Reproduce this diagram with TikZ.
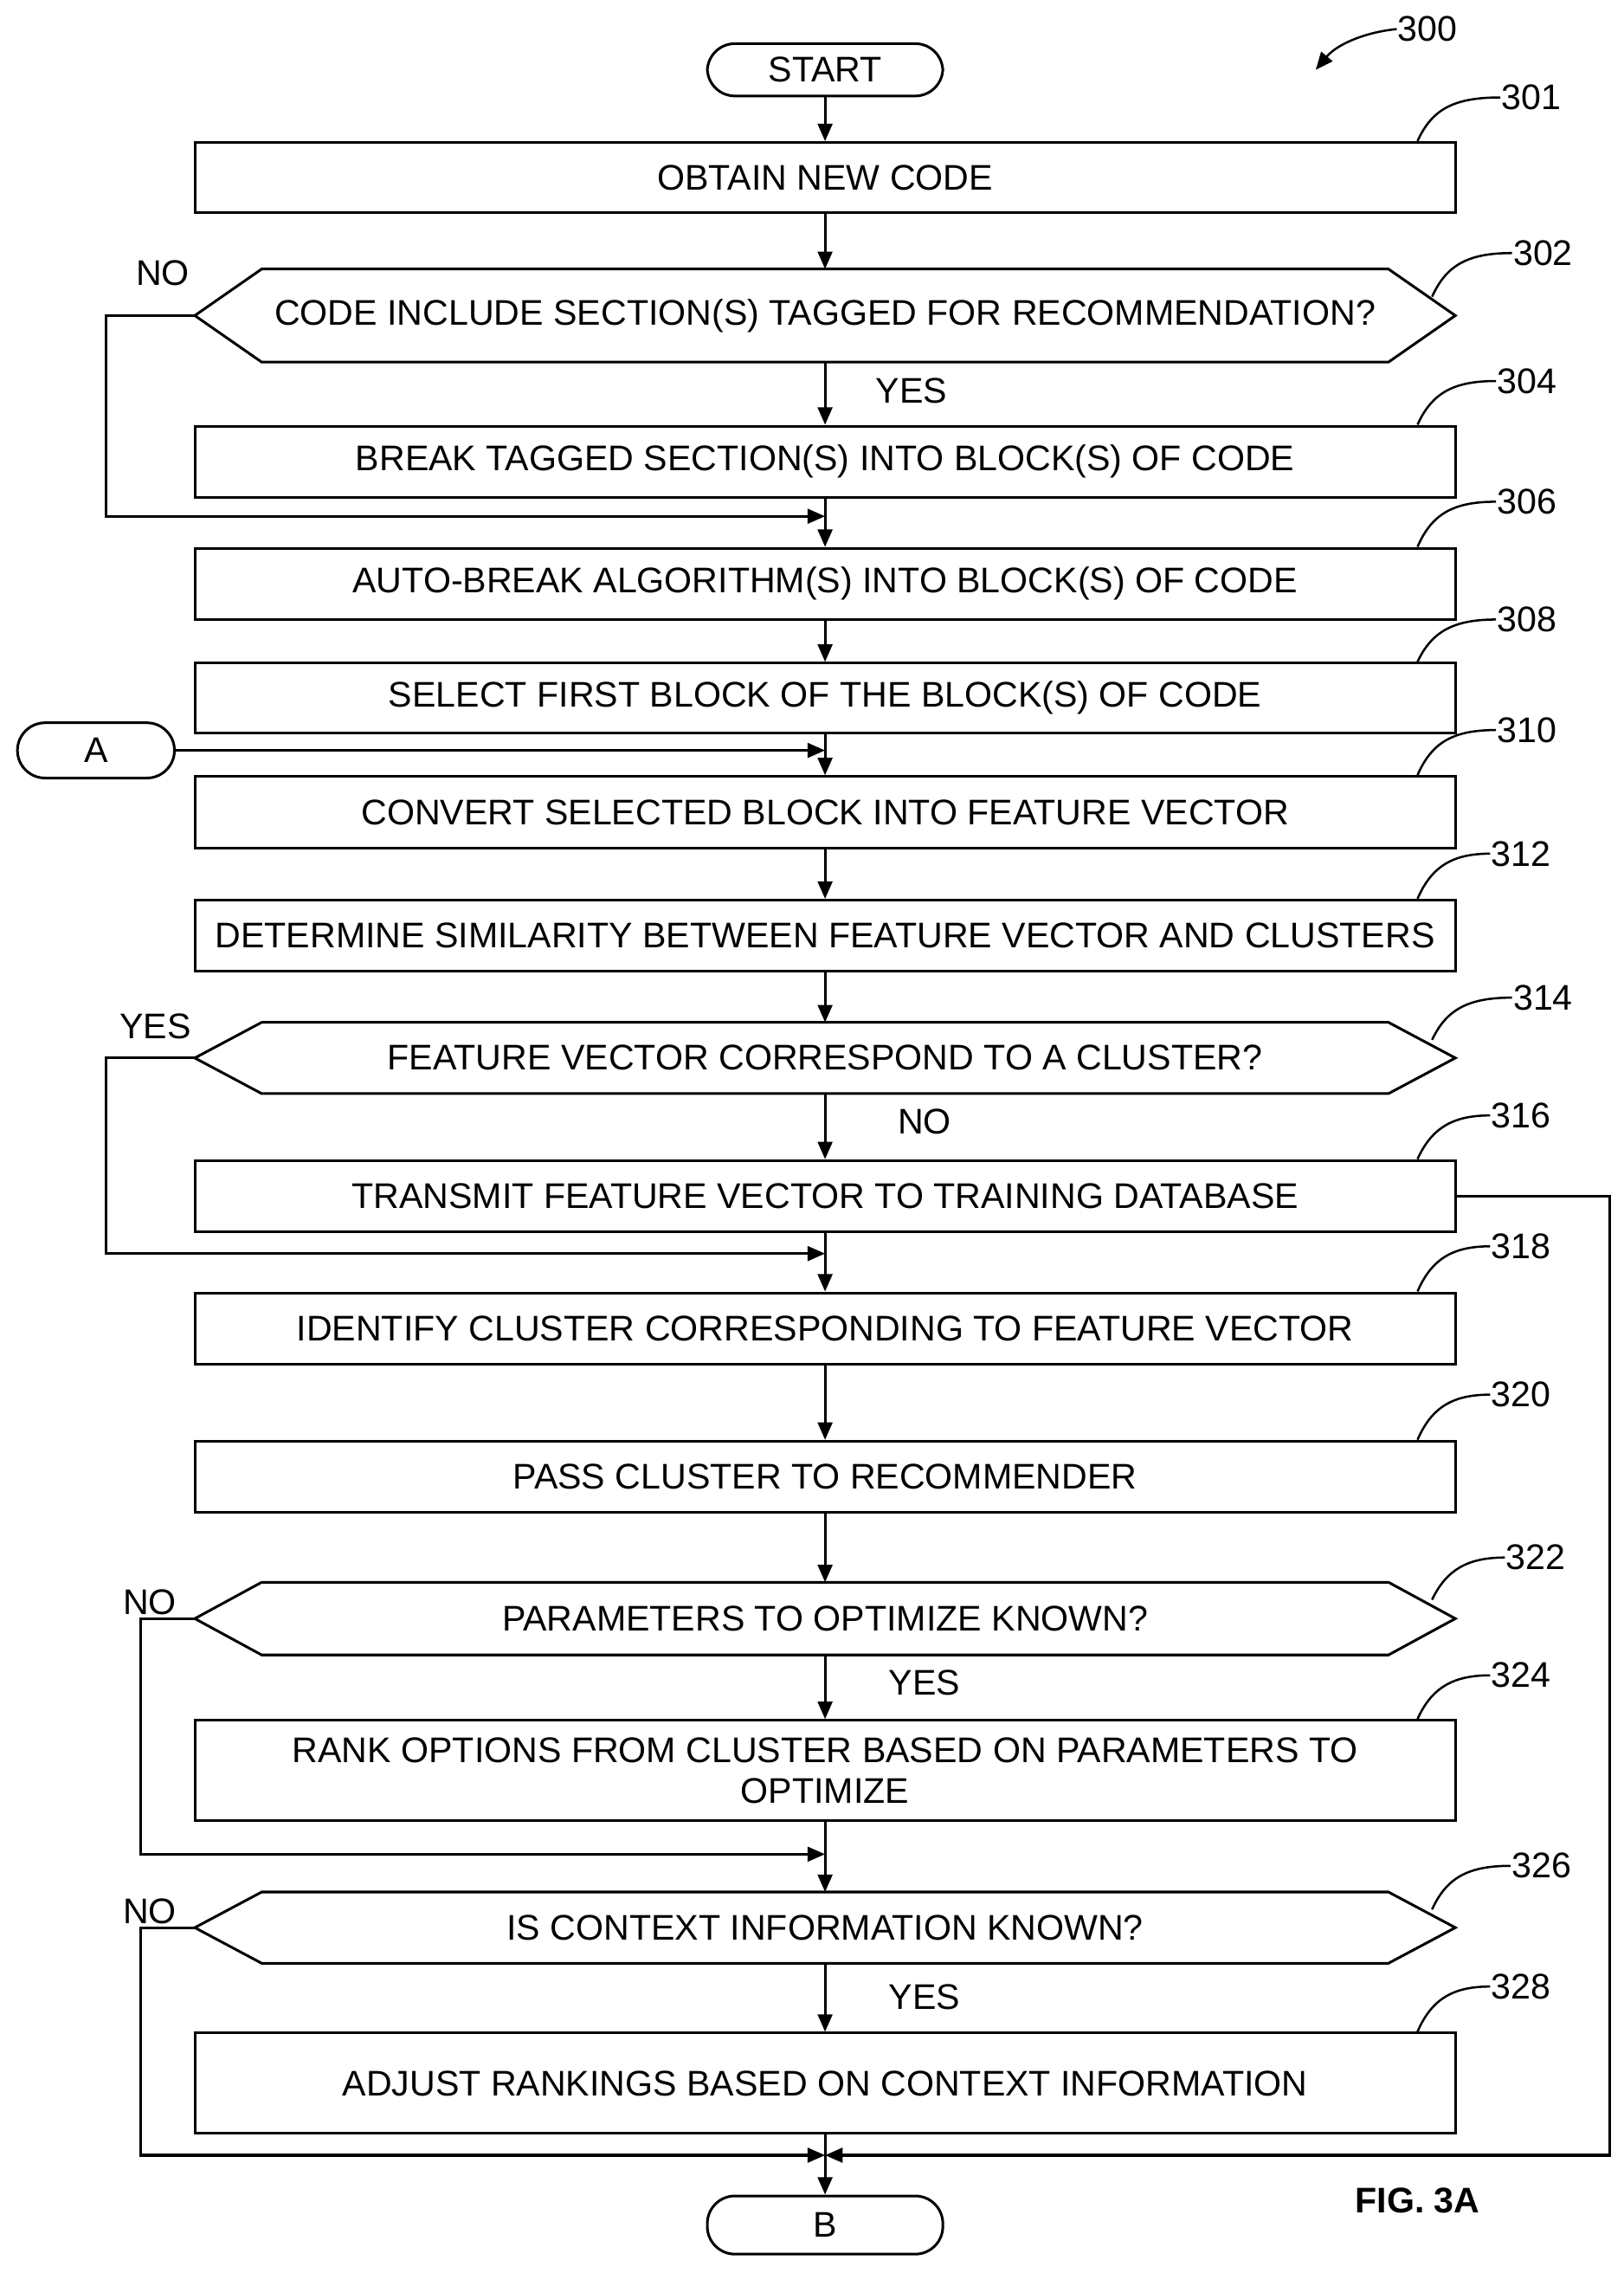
\documentclass[tikz,border=0pt]{standalone}
\usepackage{fontspec}
\setmainfont{Liberation Sans}
\usetikzlibrary{arrows.meta}
\begin{document}
\begin{tikzpicture}[x=1pt,y=-1pt,line width=1.8pt,
  every node/.style={font=\fontsize{24.5}{28}\selectfont},
  box/.style={draw,minimum width=867pt,inner sep=0pt,align=center},
  term/.style={draw,rounded corners=19pt,inner sep=0pt},
  lab/.style={inner sep=0pt},
  ld/.style={line width=1.5pt},
  arr/.style={-{Triangle[length=12pt,width=10pt]}}]
\useasboundingbox (0,0) rectangle (1117,1563);
\newcommand{\hexa}[4]{% name, ytop, ybot, text
  \node[inner sep=0pt] (#1) at (567.5,{(#2+#3)/2}) {#4};
  \coordinate (#1L) at (134,{(#2+#3)/2});
  \coordinate (#1T) at (567.5,#2);
  \coordinate (#1B) at (567.5,#3);
  \draw (134,{(#2+#3)/2}) -- (180,#2) -- (955,#2) -- (1001,{(#2+#3)/2}) -- (955,#3) -- (180,#3) -- cycle;}
\newcommand{\bx}[4]{\node[box,minimum height={#3-#2}] (#1) at (567.5,{(#2+#3)/2}) {#4};}
% nodes
\node[term,minimum width=162pt,minimum height=36pt] (start) at (567.5,48) {START};
\bx{b301}{98}{146}{OBTAIN NEW CODE}
\hexa{h302}{185}{249}{CODE INCLUDE SECTION(S) TAGGED FOR RECOMMENDATION?}
\bx{b304}{293}{342}{BREAK TAGGED SECTION(S) INTO BLOCK(S) OF CODE}
\bx{b306}{377}{426}{AUTO-BREAK ALGORITHM(S) INTO BLOCK(S) OF CODE}
\bx{b308}{456}{504}{SELECT FIRST BLOCK OF THE BLOCK(S) OF CODE}
\bx{b310}{534}{583}{CONVERT SELECTED BLOCK INTO FEATURE VECTOR}
\bx{b312}{619}{668}{DETERMINE SIMILARITY BETWEEN FEATURE VECTOR AND CLUSTERS}
\hexa{h314}{703}{752}{FEATURE VECTOR CORRESPOND TO A CLUSTER?}
\bx{b316}{798}{847}{TRANSMIT FEATURE VECTOR TO TRAINING DATABASE}
\bx{b318}{889}{938}{IDENTIFY CLUSTER CORRESPONDING TO FEATURE VECTOR}
\bx{b320}{991}{1040}{PASS CLUSTER TO RECOMMENDER}
\hexa{h322}{1088}{1138}{PARAMETERS TO OPTIMIZE KNOWN?}
\bx{b324}{1183}{1252}{RANK OPTIONS FROM CLUSTER BASED ON PARAMETERS TO\\[0pt] OPTIMIZE}
\hexa{h326}{1301}{1350}{IS CONTEXT INFORMATION KNOWN?}
\bx{b328}{1398}{1467}{ADJUST RANKINGS BASED ON CONTEXT INFORMATION}
\node[term,minimum width=162pt,minimum height=40pt] (endB) at (567.5,1530) {B};
\node[term,minimum width=108pt,minimum height=38pt] (A) at (66,516) {A};
% coordinates
\coordinate (m302) at (567.5,355);
\coordinate (mA) at (567.5,516);
\coordinate (m314) at (567.5,862);
\coordinate (m322) at (567.5,1275);
\coordinate (mEnd) at (567.5,1482);
% connectors
\draw[arr] (start) -- (b301);
\draw[arr] (b301) -- (h302T);
\draw[arr] (h302B) -- (b304);
\draw[arr] (b304) -- (b306);
\draw[arr] (h302L) -- (73,217) |- (m302);
\draw[arr] (b306) -- (b308);
\draw[arr] (b308) -- (b310);
\draw[arr] (A) -- (mA);
\draw[arr] (b310) -- (b312);
\draw[arr] (b312) -- (h314T);
\draw[arr] (h314B) -- (b316);
\draw[arr] (h314L) -- (73,727.5) |- (m314);
\draw[arr] (b316) -- (b318);
\draw[arr] (b318) -- (b320);
\draw[arr] (b320) -- (h322T);
\draw[arr] (h322B) -- (b324);
\draw[arr] (h322L) -- (97,1113) |- (m322);
\draw[arr] (b324) -- (h326T);
\draw[arr] (h326B) -- (b328);
\draw[arr] (h326L) -- (97,1325.5) |- (mEnd);
\draw[arr] (b316.east) -- (1107,822.5) |- (mEnd);
\draw[arr] (b328) -- (endB);
% labels
\node[lab] at (112,188) {NO};
\node[lab] at (627,269) {YES};
\node[lab] at (107,706) {YES};
\node[lab] at (636,771) {NO};
\node[lab] at (103,1102) {NO};
\node[lab] at (636,1157) {YES};
\node[lab] at (103,1314) {NO};
\node[lab] at (636,1373) {YES};
\node[lab] (n300) at (982,20) {300};
\draw[arr,ld] (n300.west) .. controls (940,22) and (920,30) .. (905,48);
\node[lab,anchor=west] (n301) at (1032,67) {301};
\node[lab,anchor=west] (n302) at (1040,174) {302};
\node[lab,anchor=west] (n304) at (1029,262) {304};
\node[lab,anchor=west] (n306) at (1029,345) {306};
\node[lab,anchor=west] (n308) at (1029,426) {308};
\node[lab,anchor=west] (n310) at (1029,502) {310};
\node[lab,anchor=west] (n312) at (1025,587) {312};
\node[lab,anchor=west] (n314) at (1040,686) {314};
\node[lab,anchor=west] (n316) at (1025,767) {316};
\node[lab,anchor=west] (n318) at (1025,857) {318};
\node[lab,anchor=west] (n320) at (1025,959) {320};
\node[lab,anchor=west] (n322) at (1035,1071) {322};
\node[lab,anchor=west] (n324) at (1025,1152) {324};
\node[lab,anchor=west] (n326) at (1039,1283) {326};
\node[lab,anchor=west] (n328) at (1025,1366) {328};
\draw[ld] (975,97) .. controls (985,75) and (1000,67) .. (n301.west);
\draw[ld] (985,204) .. controls (995,182) and (1010,174) .. (n302.west);
\draw[ld] (975,292) .. controls (985,270) and (1000,262) .. (n304.west);
\draw[ld] (975,376) .. controls (985,353) and (1000,345) .. (n306.west);
\draw[ld] (975,455) .. controls (985,434) and (1000,426) .. (n308.west);
\draw[ld] (975,533) .. controls (985,510) and (1000,502) .. (n310.west);
\draw[ld] (975,618) .. controls (985,595) and (1000,587) .. (n312.west);
\draw[ld] (985,715) .. controls (995,694) and (1010,686) .. (n314.west);
\draw[ld] (975,797) .. controls (985,775) and (1000,767) .. (n316.west);
\draw[ld] (975,888) .. controls (985,865) and (1000,857) .. (n318.west);
\draw[ld] (975,990) .. controls (985,967) and (1000,959) .. (n320.west);
\draw[ld] (985,1100) .. controls (995,1079) and (1010,1071) .. (n322.west);
\draw[ld] (975,1182) .. controls (985,1160) and (1000,1152) .. (n324.west);
\draw[ld] (985,1313) .. controls (995,1291) and (1010,1283) .. (n326.west);
\draw[ld] (975,1397) .. controls (985,1374) and (1000,1366) .. (n328.west);
\node[lab,font=\fontsize{24.5}{28}\selectfont\bfseries] at (975,1513) {FIG. 3A};
\end{tikzpicture}
\end{document}
